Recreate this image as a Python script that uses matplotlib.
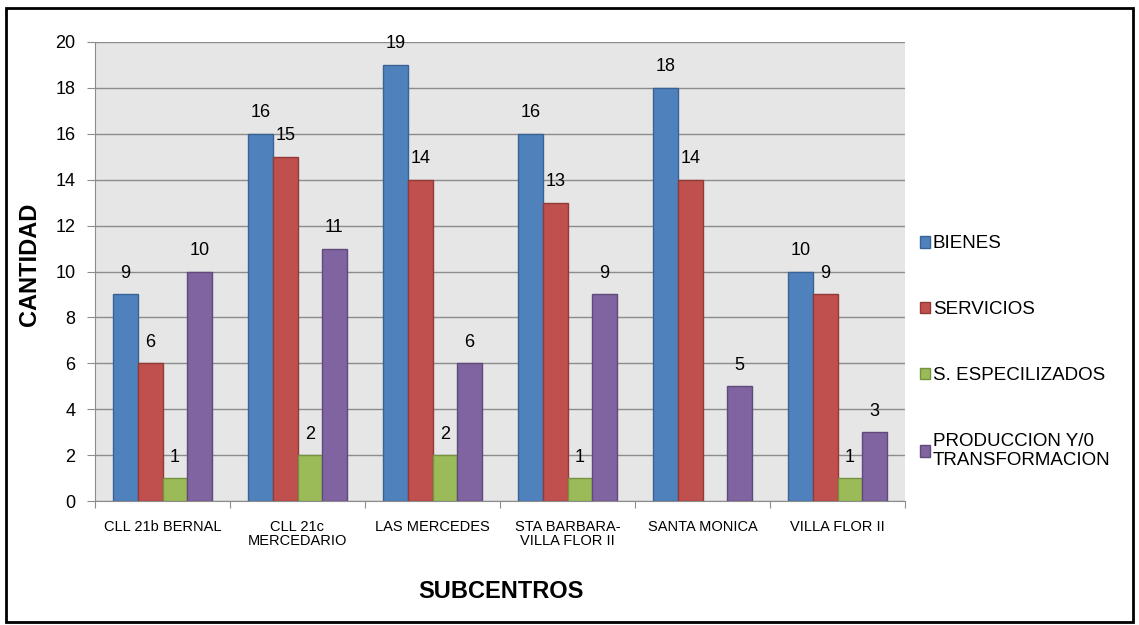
import matplotlib
matplotlib.use("Agg")
import matplotlib.pyplot as plt
import numpy as np
from matplotlib.patches import Rectangle

categories = ["CLL 21b BERNAL", "CLL 21c\nMERCEDARIO", "LAS MERCEDES",
              "STA BARBARA-\nVILLA FLOR II", "SANTA MONICA", "VILLA FLOR II"]
series_names = ["BIENES", "SERVICIOS", "S. ESPECILIZADOS", "PRODUCCION Y/0\nTRANSFORMACION"]
bienes = [9, 16, 19, 16, 18, 10]
servicios = [6, 15, 14, 13, 14, 9]
especializados = [1, 2, 2, 1, None, 1]
produccion = [10, 11, 6, 9, 5, 3]
series = [bienes, servicios, especializados, produccion]
yticks = [0, 2, 4, 6, 8, 10, 12, 14, 16, 18, 20]

colors = ["#4F81BD", "#C0504D", "#9BBB59", "#8064A2"]
edges = ["#3A6395", "#923A38", "#76913F", "#5F4A7C"]

FAM = ['Liberation Sans', 'DejaVu Sans']
plt.rcParams['font.family'] = FAM

fig = plt.figure(figsize=(11.39, 6.25), dpi=100)
ax = fig.add_axes([95/1139, 1-501/625, (905-95)/1139, (501-42)/625])
ax.set_facecolor("#E6E6E6")

x = np.arange(len(categories))
w = 0.182
for i, (vals, c, e, name) in enumerate(zip(series, colors, edges, series_names)):
    v = [np.nan if a is None else a for a in vals]
    pos = x + (i - 1.5) * w
    ax.bar(pos, v, width=w, color=c, edgecolor=e, linewidth=1, label=name, zorder=3)
    for p, a in zip(pos, vals):
        if a is not None:
            ax.annotate(str(a), (p, a), xytext=(0, 9), textcoords="offset points",
                        ha="center", va="bottom", fontsize=13, zorder=4)

ax.set_xlim(-0.5, len(categories) - 0.5)
ax.set_ylim(0, 20)
ax.set_yticks(yticks)
ax.yaxis.grid(True, color="#8C8C8C", linewidth=1, zorder=0)
ax.set_axisbelow(True)
ax.set_xticks(np.arange(len(categories) + 1) - 0.5, minor=False)
ax.set_xticklabels([""] * (len(categories) + 1))
ax.set_xticks(x, minor=True)
ax.set_xticklabels(categories, minor=True, fontsize=10.5, linespacing=1.0)
ax.tick_params(axis='x', which='minor', length=0, pad=14)
ax.tick_params(axis='x', which='major', length=5, color="#8C8C8C", direction='out')
ax.tick_params(axis='y', length=6, color="#8C8C8C", labelsize=13, pad=8)
for s in ["top", "right"]:
    ax.spines[s].set_visible(False)
ax.spines["left"].set_color("#8C8C8C")
ax.spines["bottom"].set_color("#8C8C8C")

ax.set_ylabel("CANTIDAD", fontsize=17, fontweight="bold")
ax.yaxis.set_label_coords(-54/810, 0.515)
fig.text(501/1139, 1-592/625, "SUBCENTROS", fontsize=17, fontweight="bold",
         ha="center", va="center")

fig.legend(loc="upper left", bbox_to_anchor=(912/1139, 1-228/625), frameon=False,
           fontsize=13.5, handlelength=0.55, handleheight=0.55, handletextpad=0.15,
           labelspacing=2.6, borderaxespad=0)

fig.patches.append(Rectangle((6/1139, 3/625), 1127/1139, 614/625, transform=fig.transFigure,
                             fill=False, edgecolor="black", linewidth=2))
fig.savefig("out.png", dpi=100)
